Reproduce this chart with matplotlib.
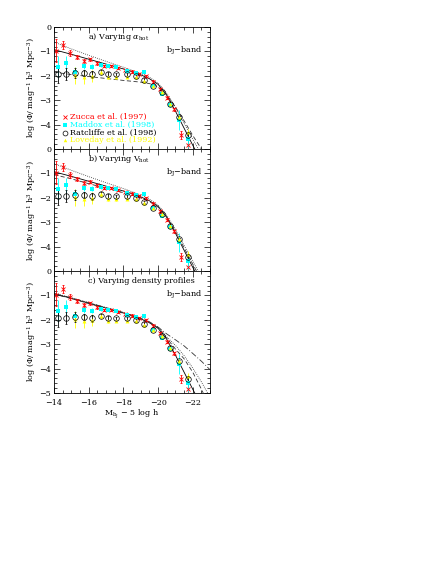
import matplotlib
matplotlib.use("Agg")
import matplotlib.pyplot as plt
import numpy as np

plt.rcParams['font.family'] = ['DejaVu Serif']
plt.rcParams['mathtext.fontset'] = 'dejavuserif'

# observed luminosity functions (same in every panel)
zuc_M = [-14.1, -14.5, -14.9, -15.3, -15.7, -16.1, -16.5, -16.9, -17.3, -17.7,
         -18.1, -18.5, -18.9, -19.3, -19.7, -20.1, -20.5, -20.9, -21.3, -21.7]
zuc_phi = [-0.97, -0.74, -1.05, -1.22, -1.39, -1.33, -1.49, -1.59, -1.59, -1.67,
           -1.76, -1.83, -1.93, -2.0, -2.24, -2.55, -2.9, -3.37, -4.43, -4.84]
zuc_err = [0.47, 0.17, 0.12, 0.09, 0.08, 0.07, 0.06, 0.05, 0.05, 0.05,
           0.05, 0.05, 0.05, 0.05, 0.05, 0.05, 0.06, 0.07, 0.15, 0.2]

mad_M = [-14.2, -14.7, -15.2, -15.7, -16.2, -16.7, -17.1, -17.6, -18.2, -18.7,
         -19.2, -19.7, -20.2, -20.7, -21.2, -21.7]
mad_phi = [-1.63, -1.49, -1.83, -1.6, -1.62, -1.55, -1.6, -1.65, -1.8, -1.9,
           -1.86, -2.42, -2.75, -3.2, -3.82, -4.6]
mad_err = [0.45, 0.3, 0.2, 0.12, 0.1, 0.07, 0.05, 0.05, 0.05, 0.05,
           0.05, 0.05, 0.05, 0.07, 0.4, 0.35]

rat_M = [-14.2, -14.7, -15.2, -15.7, -16.2, -16.7, -17.1, -17.6, -18.2, -18.7,
         -19.2, -19.7, -20.2, -20.7, -21.2, -21.7]
rat_phi = [-1.93, -1.93, -1.87, -1.9, -1.93, -1.83, -1.93, -1.93, -1.93, -2.0,
           -2.16, -2.4, -2.66, -3.14, -3.7, -4.43]
rat_err = [0.37, 0.25, 0.2, 0.12, 0.14, 0.07, 0.07, 0.06, 0.06, 0.05,
           0.05, 0.05, 0.05, 0.05, 0.06, 0.1]

lov_M = [-15.2, -15.7, -16.2, -16.7, -17.1, -17.6, -18.2, -18.7, -19.2, -19.7,
         -20.2, -20.7, -21.2, -21.7]
lov_phi = [-1.97, -2.05, -2.0, -1.83, -2.05, -2.05, -2.05, -2.05, -2.2, -2.4,
           -2.68, -3.15, -3.68, -4.3]
lov_err = [0.35, 0.3, 0.25, 0.12, 0.08, 0.06, 0.05, 0.05, 0.05, 0.05,
           0.05, 0.05, 0.06, 0.12]

# model curves
std_M = [-14, -15, -16, -17, -18, -18.5, -19, -19.5, -20, -20.5, -21, -21.5, -22, -22.15]
std_phi = [-0.93, -1.12, -1.32, -1.52, -1.72, -1.83, -1.96, -2.12, -2.35, -2.8, -3.45, -4.15, -4.85, -5.05]

a_dot_M = [-14, -15, -16, -17, -18, -19, -19.5, -20, -20.5, -21, -21.5, -22, -22.4]
a_dot_phi = [-0.62, -0.9, -1.16, -1.41, -1.65, -1.9, -2.06, -2.3, -2.72, -3.3, -3.95, -4.6, -5.1]
a_dash_M = [-14, -15, -16, -17, -18, -19, -19.5, -20, -20.5, -21, -21.5, -22, -22.5, -22.6]
a_dash_phi = [-1.85, -1.95, -2.03, -2.11, -2.19, -2.26, -2.32, -2.45, -2.78, -3.28, -3.85, -4.45, -5.0, -5.1]

b_dot_M = [-14, -15, -16, -17, -18, -19, -19.5, -20, -20.5, -21, -21.5, -22, -22.35]
b_dot_phi = [-0.6, -0.87, -1.13, -1.38, -1.62, -1.88, -2.05, -2.3, -2.72, -3.3, -3.95, -4.6, -5.05]
b_dash_M = [-14, -15, -16, -17, -18, -19, -19.5, -20, -20.5, -21, -21.5, -22, -22.25]
b_dash_phi = [-1.05, -1.22, -1.42, -1.6, -1.79, -2.0, -2.15, -2.38, -2.78, -3.38, -4.05, -4.72, -5.05]

c_dash_M = [-14, -15, -16, -17, -18, -19, -19.5, -20, -20.5, -21, -21.5, -22, -22.5, -22.6]
c_dash_phi = [-0.95, -1.13, -1.33, -1.53, -1.73, -1.97, -2.12, -2.33, -2.75, -3.2, -3.6, -4.15, -4.85, -5.0]
c_dot_M = [-14, -15, -16, -17, -18, -19, -19.5, -20, -20.5, -21, -21.5, -22, -22.5, -22.85]
c_dot_phi = [-0.9, -1.1, -1.3, -1.5, -1.7, -1.95, -2.1, -2.3, -2.7, -3.05, -3.47, -3.98, -4.55, -5.0]
c_dd_M = [-14, -15, -16, -17, -18, -19, -19.5, -20, -20.5, -21, -21.5, -22, -22.5, -23]
c_dd_phi = [-0.92, -1.1, -1.3, -1.5, -1.7, -1.94, -2.08, -2.3, -2.58, -2.82, -3.07, -3.38, -3.7, -4.05]

labels = ["Zucca et al. (1997)", "Maddox et al. (1998)",
          "Ratcliffe et al. (1998)", "Loveday et al. (1992)"]
titles = [r"a) Varying $\alpha_{\rm hot}$", r"b) Varying V$_{\rm hot}$",
          "c) Varying density profiles"]

fs = 5.8
fig = plt.figure(figsize=(4.36, 5.88), dpi=100)
left, width, h = 0.124, 0.358, 0.2075
bottoms = [0.7466, 0.539, 0.3316]

curves = [
    [(a_dot_M, a_dot_phi, (0, (1, 1.5))), (a_dash_M, a_dash_phi, (0, (5, 3)))],
    [(b_dot_M, b_dot_phi, (0, (1, 1.5))), (b_dash_M, b_dash_phi, (0, (5, 3)))],
    [(c_dash_M, c_dash_phi, (0, (5, 3))), (c_dot_M, c_dot_phi, (0, (1, 1.5))),
     (c_dd_M, c_dd_phi, (0, (7, 2.5, 1, 2.5)))],
]

for i in range(3):
    ax = fig.add_axes([left, bottoms[i], width, h])
    ax.plot(std_M, std_phi, color='k', lw=0.6)
    for mm, pp, ls in curves[i]:
        ax.plot(mm, pp, color='#333333', lw=0.6, linestyle=ls)

    ekw = dict(elinewidth=0.6, capsize=1.0, capthick=0.6)
    ax.errorbar(zuc_M, zuc_phi, yerr=zuc_err, fmt='x', color='red', ms=3, mew=0.6, **ekw)
    ax.errorbar(mad_M, mad_phi, yerr=mad_err, fmt='s', color='cyan', ms=2.8, mew=0, **ekw)
    ax.errorbar(lov_M, lov_phi, yerr=lov_err, fmt='^', color='yellow', ms=2.8, mew=0, **ekw)
    ax.errorbar(rat_M, rat_phi, yerr=rat_err, fmt='o', color='k', mfc='none', ms=4, mew=0.5,
                **ekw)

    ax.set_xlim(-14, -23)
    ax.set_ylim(-5, 0)
    ax.set_xticks([-14, -16, -18, -20, -22])
    ax.set_xticks(np.arange(-14, -23.01, -0.5), minor=True)
    ax.set_yticks([0, -1, -2, -3, -4, -5])
    ax.set_yticks(np.arange(0, -5.01, -0.2), minor=True)
    ax.tick_params(which='both', direction='in', top=True, right=True, labelsize=fs,
                   width=0.5, pad=2)
    ax.tick_params(axis='x', pad=4)
    ax.tick_params(which='major', length=4)
    ax.tick_params(which='minor', length=2)
    for s in ax.spines.values():
        s.set_linewidth(0.6)
    if i < 2:
        ax.set_xticklabels([])
        ax.set_yticklabels(['0', '\u22121', '\u22122', '\u22123', '\u22124', ''])
    else:
        ax.set_xlabel(r"M$_{\rm b_J}$ $-$ 5 log h", fontsize=fs, labelpad=1)
    ax.set_ylabel(r"log ($\Phi$/ mag$^{-1}$ h$^3$ Mpc$^{-3}$)", fontsize=fs, labelpad=1)

    ax.text(0.22, 0.918, titles[i], transform=ax.transAxes, fontsize=fs, va='center')
    ax.text(0.72, 0.81, r"b$_{\rm J}$$-$band", transform=ax.transAxes, fontsize=fs,
            va='center')

    if i == 0:
        ys = [0.26, 0.198, 0.135, 0.073]
        cols = ['red', 'cyan', 'k', 'yellow']
        mks = ['x', 's', 'o', '^']
        for y, lab, c, m in zip(ys, labels, cols, mks):
            if m == 'o':
                ax.plot([0.07], [y], m, transform=ax.transAxes, mfc='none', mec=c,
                        ms=3.5, mew=0.5)
            else:
                ax.plot([0.07], [y], m, transform=ax.transAxes, color=c, ms=2.5,
                        mew=0.6 if m == 'x' else 0)
            ax.text(0.1, y, lab, transform=ax.transAxes, fontsize=fs, color=c,
                    va='center')

fig.savefig("out.png", dpi=100)
